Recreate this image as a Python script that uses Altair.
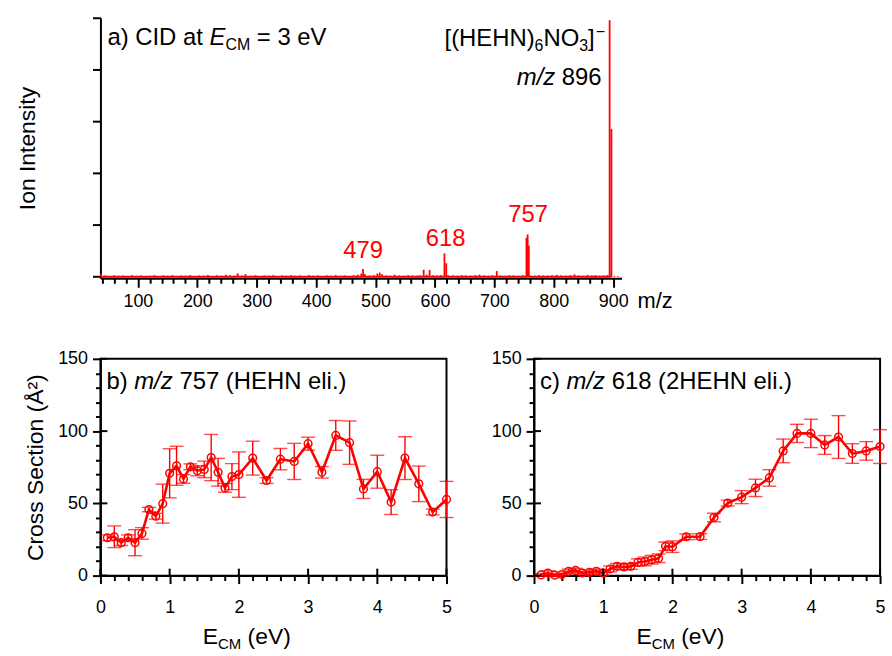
import altair as alt
import pandas as pd

FONT = "Liberation Sans"
RED = "#ff0000"

# ---------------- panel a: CID mass spectrum (stick representation) ----------------
spec_mz = [38, 45, 52, 60, 68, 75, 83, 90, 97, 105, 112, 120, 128, 135, 143, 150, 158, 165,
           173, 180, 188, 195, 203, 210, 218, 225, 233, 240, 248, 255, 263, 268, 275, 281,
           290, 298, 305, 313, 320, 328, 335, 343, 350, 358, 365, 373, 380, 388, 395, 403,
           410, 418, 425, 433, 440, 448, 455, 463, 470, 476, 479, 482, 490, 497, 503, 507,
           511, 518, 525, 532, 540, 548, 555, 562, 570, 575, 581, 586, 591, 597, 604, 610,
           616, 619, 622, 630, 638, 645, 652, 660, 668, 675, 683, 690, 697, 704, 710, 718,
           725, 732, 740, 748, 754, 756, 758, 760, 768, 775, 782, 790, 797, 805, 812, 820,
           828, 835, 842, 850, 857, 864, 870, 877, 884, 890, 894, 897, 902, 908]
spec_int = [1.2, 0.5, 0.3, 0.6, 0.4, 0.5, 0.3, 0.6, 0.4, 0.5, 0.3, 0.4, 0.6, 0.3, 0.5, 0.4, 0.6, 0.3,
            0.5, 0.4, 0.6, 0.3, 0.5, 0.4, 0.7, 0.3, 0.5, 0.4, 0.8, 0.6, 0.4, 1.3, 0.5, 1.0,
            0.4, 0.6, 0.3, 0.5, 0.4, 0.6, 0.3, 0.5, 0.4, 0.6, 0.4, 0.5, 0.3, 0.6, 0.4, 0.5,
            0.3, 0.5, 0.4, 0.6, 0.4, 0.5, 0.3, 0.6, 0.8, 1.2, 3.0, 1.0, 0.5, 0.6, 1.2, 1.6,
            1.0, 0.5, 0.4, 0.8, 0.5, 0.4, 0.6, 0.5, 0.4, 0.6, 2.7, 0.8, 2.6, 0.6, 0.5, 0.6,
            9.0, 5.2, 0.6, 0.5, 0.4, 0.6, 0.5, 0.4, 0.6, 0.8, 0.5, 0.4, 0.6, 2.2, 0.5, 0.4,
            0.6, 0.5, 0.4, 0.6, 15.0, 16.3, 12.0, 0.5, 0.4, 0.6, 0.5, 0.4, 0.6, 0.7, 0.5, 0.4,
            0.6, 0.9, 0.5, 0.4, 0.7, 0.5, 0.6, 0.4, 0.5, 0.6, 99.0, 57.0, 0.4, 0.3]
baseline_mz = [37.5, 897]

peak_label_mz = [479, 618, 757]
peak_label_text = ["479", "618", "757"]
peak_label_level = [7.3, 11.8, 21.0]

# ---------------- panel b: m/z 757 ----------------
e_b = [0.1, 0.2, 0.3, 0.4, 0.5, 0.6, 0.7, 0.8, 0.9, 1.0, 1.1, 1.2, 1.3, 1.4, 1.5, 1.6, 1.7,
       1.8, 1.9, 2.0, 2.2, 2.4, 2.6, 2.8, 3.0, 3.2, 3.4, 3.6, 3.8, 4.0, 4.2, 4.4, 4.6, 4.8, 5.0]
cs_b = [26.2, 26.9, 22.8, 26.2, 22.8, 29.2, 45.7, 41.1, 49.8, 70.8, 76.0, 66.9, 75.3, 72.6,
        73.5, 81.7, 71.5, 60.7, 68.5, 69.9, 81.3, 65.8, 80.6, 79.0, 91.3, 71.5, 97.0, 92.0,
        60.0, 71.9, 50.9, 81.3, 63.5, 44.0, 52.7]
err_b = [2, 7.5, 2, 2, 9, 4, 1.5, 2, 13.5, 17, 13.5, 3, 2, 3.5, 5.7, 16, 9.6, 3, 9, 15.7,
         11.7, 2, 7.4, 12.5, 4.5, 4, 10.3, 15, 6.6, 11.4, 8.6, 14.8, 12.3, 2, 12.5]

# ---------------- panel c: m/z 618 ----------------
e_c = [0.1, 0.2, 0.3, 0.4, 0.5, 0.6, 0.7, 0.8, 0.9, 1.0, 1.1, 1.2, 1.3, 1.4, 1.5, 1.6, 1.7,
       1.8, 1.9, 2.0, 2.2, 2.4, 2.6, 2.8, 3.0, 3.2, 3.4, 3.6, 3.8, 4.0, 4.2, 4.4, 4.6, 4.8, 5.0]
cs_c = [0.5, 1.8, 0.3, 0.7, 3.0, 3.6, 1.8, 2.3, 3.0, 1.8, 4.6, 6.4, 6.0, 6.4, 9.1, 9.8, 11.0,
        12.0, 20.3, 20.0, 26.9, 27.0, 40.2, 50.2, 54.3, 60.7, 67.6, 86.3, 98.4, 98.4, 90.4,
        95.9, 84.5, 86.3, 89.3]
err_c = [1, 1.5, 1, 1, 1.5, 1.5, 1, 1.5, 1.5, 1.5, 2, 2, 2, 2, 2.5, 3, 3, 3, 3, 4,
         2, 2, 3, 2, 4.5, 6, 5.7, 8.2, 6.3, 9.8, 6.5, 14.8, 6.8, 6.4, 11.7]

mz_ticks = list(range(40, 901, 20))
int_ticks = [0, 20, 40, 60, 80, 100]
e_ticks = [round(i * 0.2, 1) for i in range(26)]
e_major = [0, 1, 2, 3, 4, 5]
cs_ticks = list(range(0, 151, 10))
cs_major = [0, 50, 100, 150]


def txt(s, x, y, size=24, color="black", style="normal", align="left"):
    return alt.Chart(pd.DataFrame({"t": [s]})).mark_text(
        font=FONT, fontSize=size, color=color, fontStyle=style, align=align,
        baseline="alphabetic").encode(x=alt.value(x), y=alt.value(y), text="t:N")


# ----- panel a -----
WA, HA = 524, 262
spec = pd.DataFrame({"mz": spec_mz, "inten": spec_int})
xa = alt.X("mz:Q", scale=alt.Scale(domain=[37, 914], nice=False, zero=False),
           axis=alt.Axis(values=mz_ticks, title=None, grid=False, labelOverlap=False,
                         labelFlush=False, labelFontSize=18, labelPadding=5,
                         labelExpr="datum.value % 100 === 0 ? datum.label : ''",
                         tickSize={"condition": {"test": "datum.value % 100 === 0", "value": 9},
                                   "value": 5}))
ya = alt.Y("inten:Q", scale=alt.Scale(domain=[-0.6, 100], nice=False, zero=False),
           axis=alt.Axis(values=int_ticks, labels=False, tickSize=8, title="Ion Intensity",
                         titlePadding=52, grid=False))
sticks = alt.Chart(spec).mark_rule(color=RED, strokeWidth=1.8).encode(x=xa, y=ya, y2=alt.datum(0))
base = alt.Chart(pd.DataFrame({"mz": [baseline_mz[0]], "mz2": [baseline_mz[1]]})).mark_rule(
    color=RED, strokeWidth=2).encode(x=xa, x2="mz2:Q", y=alt.datum(0))
plabels = alt.Chart(pd.DataFrame({"mz": peak_label_mz, "inten": peak_label_level,
                                  "t": peak_label_text})).mark_text(
    font=FONT, fontSize=24, color=RED, baseline="alphabetic").encode(
    x=xa, y=ya, text="t:N")

a_layers = [base, sticks, plabels,
            txt("a) CID at", 7, 27), txt("E", 109.7, 27, style="italic"),
            txt("CM", 125.7, 32, size=16), txt("= 3 eV", 157.3, 27),
            txt("[(HEHN)", 346, 28), txt("6", 436.6, 33, size=16), txt("NO", 445.5, 28),
            txt("3", 481.5, 33, size=16), txt("]", 490.4, 28), txt("\u2212", 498, 19, size=16),
            txt("896", 504, 68, align="right"), txt("m/z", 457.3, 68, style="italic", align="right"),
            txt("m/z", 540, 292, size=22)]
panel_a = alt.layer(*a_layers).properties(width=WA, height=HA)


# ----- panels b, c -----
WB, HB = 348, 218


def cs_panel(E, cs, err, label_prefix, label_rest, ytitle, prefix_w):
    df = pd.DataFrame({"E": E, "cs": cs})
    df["lo"] = [c - e for c, e in zip(cs, err)]
    df["hi"] = [c + e for c, e in zip(cs, err)]
    caps = pd.DataFrame({"E": E + E, "cs": list(df["lo"]) + list(df["hi"])})
    xsc = alt.Scale(domain=[0, 5], nice=False, zero=False)
    x = alt.X("E:Q", scale=xsc,
              axis=alt.Axis(values=e_ticks, title=None, grid=False, labelOverlap=False,
                            labelFlush=False, labelFontSize=18, labelPadding=15,
                            labelExpr="abs(datum.value - round(datum.value)) < 0.01 ? format(datum.value, 'd') : ''",
                            tickSize={"condition": {"test": "abs(datum.value - round(datum.value)) < 0.01",
                                                    "value": 8}, "value": 5}))
    yaxis_kw = dict(values=cs_ticks, grid=False, labelOverlap=False, labelFlush=False,
                    labelFontSize=18, labelPadding=5,
                    labelExpr="datum.value % 50 === 0 ? datum.label : ''",
                    tickSize={"condition": {"test": "datum.value % 50 === 0", "value": 8},
                              "value": 5})
    if ytitle:
        yaxis_kw.update(title=ytitle, titlePadding=10)
    else:
        yaxis_kw.update(title=None)
    yax = alt.Axis(**yaxis_kw)
    ysc = alt.Scale(domain=[0, 150], nice=False, zero=False)
    y = alt.Y("cs:Q", scale=ysc, axis=yax)
    # inner halves of the major ticks (ticks cross the frame)
    in_y = alt.Chart(pd.DataFrame({"cs": cs_major})).mark_rule(
        color="black", strokeWidth=2).encode(
        y=alt.Y("cs:Q", scale=ysc, axis=yax), x=alt.value(0), x2=alt.value(7))
    in_x = alt.Chart(pd.DataFrame({"E": e_major})).mark_rule(
        color="black", strokeWidth=2).encode(
        x=x, y=alt.value(HB), y2=alt.value(HB - 7))
    bars = alt.Chart(df).mark_rule(color=RED, strokeWidth=1.4).encode(
        x=x, y=alt.Y("lo:Q", scale=ysc, axis=yax, title=ytitle), y2="hi:Q")
    capm = alt.Chart(caps).mark_tick(color=RED, orient="horizontal", size=14,
                                     thickness=1.4).encode(x=x, y=y)
    line = alt.Chart(df).mark_line(color=RED, strokeWidth=2.6).encode(x=x, y=y)
    pts = alt.Chart(df).mark_point(shape="circle", filled=False, color=RED, size=60,
                                   strokeWidth=1.5, opacity=1).encode(x=x, y=y)
    layers = [bars, capm, line, pts, in_y, in_x,
              txt(label_prefix, 6, 30), txt("m/z", 6 + prefix_w, 30, style="italic"),
              txt(label_rest, 6 + prefix_w + 38.7 + 6.7, 30),
              txt("E", 103, 287, size=23), txt("CM", 118.3, 292, size=15),
              txt("(eV)", 148, 287, size=23)]
    return alt.layer(*layers).properties(
        width=WB, height=HB, view=alt.ViewBackground(stroke="black", strokeWidth=2))


panel_b = cs_panel(e_b, cs_b, err_b, "b)", "757 (HEHN eli.)", "Cross Section (\u00c5\u00b2)", 28.0)
panel_c = cs_panel(e_c, cs_c, err_c, "c)", "618 (2HEHN eli.)", None, 26.7)

bottom = alt.hconcat(panel_b, panel_c, spacing=88, bounds="flush")
chart = alt.vconcat(panel_a, bottom, spacing=81, bounds="flush").properties(
    padding={"left": 16, "top": 14, "right": 4, "bottom": 4}
).configure_view(stroke="transparent").configure_axis(
    labelFont=FONT, titleFont=FONT, labelColor="black", titleColor="black",
    titleFontSize=23, titleFontWeight="normal", domainColor="black", domainWidth=2,
    tickColor="black", tickWidth=2, labelOverlap=False, labelFlush=False)

chart.save("out.html", embed_options={"renderer": "svg", "actions": False})
